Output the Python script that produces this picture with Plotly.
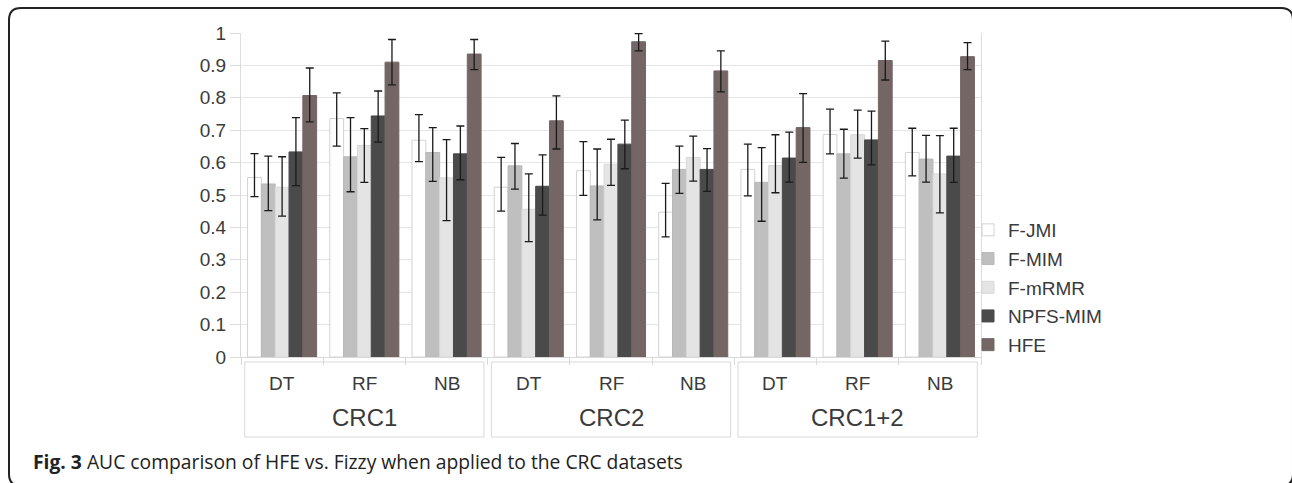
import plotly.graph_objects as go

# ---------------- data ----------------
datasets = ["CRC1", "CRC2", "CRC1+2"]
classifiers = ["DT", "RF", "NB"]
methods = ["F-JMI", "F-MIM", "F-mRMR", "NPFS-MIM", "HFE"]

# order of the 9 entries: CRC1 DT,RF,NB | CRC2 DT,RF,NB | CRC1+2 DT,RF,NB
auc_f_jmi = [0.554, 0.736, 0.669, 0.524, 0.575, 0.447, 0.579, 0.687, 0.631]
auc_f_mim = [0.534, 0.618, 0.631, 0.590, 0.528, 0.579, 0.539, 0.627, 0.611]
auc_f_mrmr = [0.524, 0.653, 0.553, 0.456, 0.595, 0.616, 0.591, 0.686, 0.565]
auc_npfs_mim = [0.633, 0.744, 0.627, 0.527, 0.657, 0.579, 0.614, 0.670, 0.620]
auc_hfe = [0.807, 0.910, 0.935, 0.729, 0.973, 0.883, 0.708, 0.915, 0.927]

# error bar upper / lower ends
hi_f_jmi = [0.628, 0.815, 0.748, 0.616, 0.665, 0.536, 0.657, 0.765, 0.706]
lo_f_jmi = [0.495, 0.651, 0.603, 0.450, 0.499, 0.371, 0.497, 0.627, 0.559]
hi_f_mim = [0.620, 0.739, 0.708, 0.659, 0.642, 0.651, 0.646, 0.703, 0.684]
lo_f_mim = [0.452, 0.510, 0.542, 0.518, 0.423, 0.505, 0.419, 0.552, 0.540]
hi_f_mrmr = [0.618, 0.705, 0.671, 0.565, 0.672, 0.682, 0.686, 0.762, 0.683]
lo_f_mrmr = [0.435, 0.539, 0.421, 0.356, 0.530, 0.543, 0.507, 0.614, 0.445]
hi_npfs_mim = [0.739, 0.821, 0.713, 0.624, 0.731, 0.643, 0.694, 0.759, 0.706]
lo_npfs_mim = [0.529, 0.663, 0.547, 0.438, 0.581, 0.511, 0.540, 0.593, 0.539]
hi_hfe = [0.892, 0.980, 0.980, 0.806, 0.998, 0.945, 0.813, 0.975, 0.970]
lo_hfe = [0.726, 0.840, 0.887, 0.642, 0.945, 0.818, 0.601, 0.855, 0.887]

y_ticks = [0, 0.1, 0.2, 0.3, 0.4, 0.5, 0.6, 0.7, 0.8, 0.9, 1]
caption = "<b>Fig. 3</b> AUC comparison of HFE vs. Fizzy when applied to the CRC datasets"

# ---------------- styling ----------------
W, H = 1292, 483
ML, MR, MT, MB = 241, 311, 33, 126
PW, PH = W - ML - MR, H - MT - MB
FONT = "Liberation Sans, Arial, sans-serif"
TXT = "#3a3a3a"
GRID = "#e6e6e6"

fills = ["#ffffff", "#bfbfbf", "#e4e4e4", "#4a4a4a", "#736665"]
edges = ["#d2d2d2", "#b8b8b8", "#d8d8d8", "#4a4a4a", "#736665"]

def px_x(p):
    return (p - ML) / PW

def px_y(p):
    return (H - MB - p) / PH

means = [auc_f_jmi, auc_f_mim, auc_f_mrmr, auc_npfs_mim, auc_hfe]
highs = [hi_f_jmi, hi_f_mim, hi_f_mrmr, hi_npfs_mim, hi_hfe]
lows = [lo_f_jmi, lo_f_mim, lo_f_mrmr, lo_npfs_mim, lo_hfe]

n_cat = len(datasets) * len(classifiers)
x_pos = list(range(n_cat))

fig = go.Figure()
for k, name in enumerate(methods):
    m, hi, lo = means[k], highs[k], lows[k]
    fig.add_trace(go.Bar(
        x=x_pos, y=m, name=name, legendgroup=name,
        marker=dict(color=fills[k], line=dict(color=edges[k], width=1)),
        error_y=dict(type="data", symmetric=False,
                     array=[h - v for h, v in zip(hi, m)],
                     arrayminus=[v - l for v, l in zip(m, lo)],
                     color="#1a1a1a", thickness=1.3, width=4),
    ))

shapes = []
annotations = []
nc = len(classifiers)
for g, ds in enumerate(datasets):
    shapes.append(dict(type="rect", xref="x", yref="paper",
                       x0=g * nc - 0.5 + 0.045, x1=g * nc + nc - 0.5 - 0.045,
                       y0=px_y(437), y1=px_y(362),
                       line=dict(color="#d9d9d9", width=1), fillcolor="rgba(0,0,0,0)"))
    annotations.append(dict(xref="x", yref="paper", x=g * nc + (nc - 1) / 2, y=px_y(417),
                            text=ds, showarrow=False, yanchor="middle",
                            font=dict(family=FONT, size=24, color=TXT)))
    for c, cl in enumerate(classifiers):
        annotations.append(dict(xref="x", yref="paper", x=g * nc + c, y=px_y(383),
                                text=cl, showarrow=False, yanchor="middle",
                                font=dict(family=FONT, size=19, color=TXT)))

annotations.append(dict(xref="paper", yref="paper", x=px_x(31), y=px_y(461),
                        xanchor="left", yanchor="middle", text=caption, showarrow=False,
                        font=dict(family="Open Sans, Noto Sans, sans-serif", size=19.3, color="#222222")))

# rounded outer frame
L, T, R, B, r = 9, 8, 1293, 486, 12
pts = lambda x, y: f"{px_x(x):.5f},{px_y(y):.5f}"
path = (f"M {pts(L, T + r)} Q {pts(L, T)} {pts(L + r, T)} L {pts(R - r, T)} "
        f"Q {pts(R, T)} {pts(R, T + r)} L {pts(R, B - r)} Q {pts(R, B)} {pts(R - r, B)} "
        f"L {pts(L + r, B)} Q {pts(L, B)} {pts(L, B - r)} Z")
shapes.append(dict(type="path", xref="paper", yref="paper", path=path,
                   line=dict(color="#222222", width=2)))

fig.update_layout(
    width=W, height=H,
    margin=dict(l=ML, r=MR, t=MT, b=MB, pad=0),
    paper_bgcolor="white", plot_bgcolor="white",
    barmode="group", bargap=0.16, bargroupgap=0,
    font=dict(family=FONT, color=TXT),
    showlegend=True,
    legend=dict(x=px_x(968), y=px_y(211), xanchor="left", yanchor="top",
                font=dict(family=FONT, size=19, color=TXT),
                traceorder="grouped", tracegroupgap=1,
                bgcolor="rgba(0,0,0,0)", borderwidth=0),
    xaxis=dict(range=[-0.5, n_cat - 0.5], showgrid=False, zeroline=False,
               tickmode="array", tickvals=[i - 0.5 for i in range(n_cat + 1)],
               showticklabels=False, ticks="outside", ticklen=7, tickcolor="#d9d9d9",
               showline=True, linecolor="#d9d9d9", linewidth=1, fixedrange=True),
    yaxis=dict(range=[0, 1], tickmode="array", tickvals=y_ticks,
               ticktext=[f"{v:g}" for v in y_ticks],
               showgrid=True, gridcolor=GRID, gridwidth=1, zeroline=False,
               ticks="outside", ticklen=10, tickcolor="#dcdcdc",
               showline=True, linecolor="#dcdcdc", linewidth=1, mirror=True,
               tickfont=dict(family=FONT, size=19, color=TXT), fixedrange=True),
    shapes=shapes, annotations=annotations,
)

fig.write_html("out.html", config={"displayModeBar": False},
               post_script="document.body.style.margin='0';document.body.style.overflow='hidden';")
